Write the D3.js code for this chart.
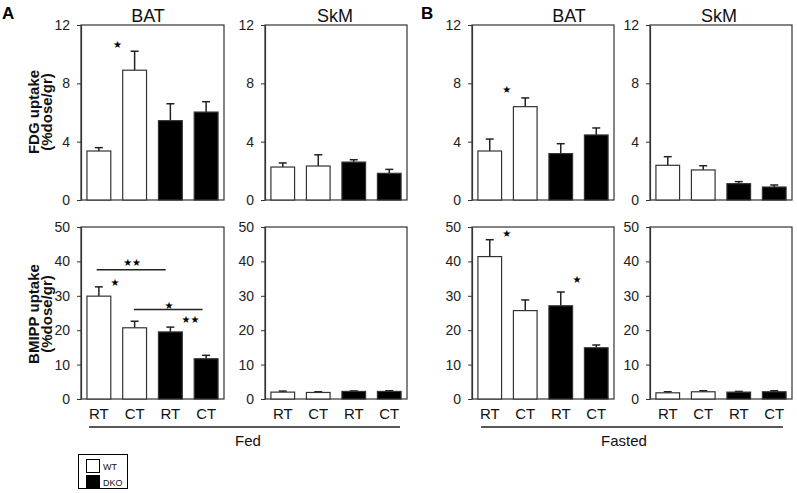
<!DOCTYPE html>
<html><head><meta charset="utf-8">
<script src="https://cdn.jsdelivr.net/npm/d3@7"></script>
<style>
body{margin:0;background:#fff;}
text{font-family:"Liberation Sans",Arial,sans-serif;}
</style></head>
<body><svg id="c" width="797" height="493"></svg>
<script>
// ---- data ----
const conditions = ["RT","CT","RT","CT"];
const genotypes = ["WT","WT","DKO","DKO"];
const fdgTicks = [0,4,8,12];
const bmippTicks = [0,10,20,30,40,50];

const fdgFedBAT = [3.36, 8.9, 5.44, 6.03];
const fdgFedBATErr = [0.23, 1.3, 1.16, 0.71];
const fdgFedSkM = [2.26, 2.33, 2.6, 1.83];
const fdgFedSkMErr = [0.28, 0.77, 0.16, 0.27];
const fdgFastedBAT = [3.36, 6.4, 3.18, 4.46];
const fdgFastedBATErr = [0.82, 0.6, 0.68, 0.48];
const fdgFastedSkM = [2.38, 2.06, 1.12, 0.89];
const fdgFastedSkMErr = [0.59, 0.29, 0.14, 0.14];

const bmippFedBAT = [29.9, 20.7, 19.5, 11.7];
const bmippFedBATErr = [2.7, 1.9, 1.4, 1.0];
const bmippFedSkM = [2.0, 1.9, 2.2, 2.2];
const bmippFedSkMErr = [0.3, 0.2, 0.15, 0.2];
const bmippFastedBAT = [41.4, 25.7, 27.1, 14.9];
const bmippFastedBATErr = [4.9, 3.1, 4.0, 0.8];
const bmippFastedSkM = [1.8, 2.1, 2.0, 2.1];
const bmippFastedSkMErr = [0.3, 0.3, 0.2, 0.3];

// significance marks: bar index position (fractional), value
const starsFdgFedBAT = [{i:0.52, v:10.68, t:"★"}];
const starsFdgFastedBAT = [{i:0.48, v:7.59, t:"★"}];
const starsBmippFedBAT = [{i:0.93, v:39.8, t:"★★"},{i:0.45, v:34.0, t:"★"},{i:1.96, v:27.2, t:"★"},{i:2.56, v:23.0, t:"★★"}];
const linesBmippFedBAT = [{i0:-0.06, i1:1.87, v:37.6},{i0:0.98, i1:2.9, v:26.0}];
const starsBmippFastedBAT = [{i:0.48, v:48.1, t:"★"},{i:2.46, v:34.6, t:"★"}];

// ---- layout ----
const svg = d3.select("#c");
const cols = [{x0:81,x1:224},{x0:265,x1:407},{x0:472,x1:614},{x0:650,x1:792}];
const rows = [{y0:200,y1:25,max:12,ticks:fdgTicks},{y0:399,y1:227,max:50,ticks:bmippTicks}];
const ink = "#222";

const panels = [
 {c:0,r:0,vals:fdgFedBAT,err:fdgFedBATErr,stars:starsFdgFedBAT,title:"BAT",tx:148},
 {c:1,r:0,vals:fdgFedSkM,err:fdgFedSkMErr,title:"SkM",tx:335},
 {c:2,r:0,vals:fdgFastedBAT,err:fdgFastedBATErr,stars:starsFdgFastedBAT,title:"BAT",tx:569},
 {c:3,r:0,vals:fdgFastedSkM,err:fdgFastedSkMErr,title:"SkM",tx:719},
 {c:0,r:1,vals:bmippFedBAT,err:bmippFedBATErr,stars:starsBmippFedBAT,lines:linesBmippFedBAT},
 {c:1,r:1,vals:bmippFedSkM,err:bmippFedSkMErr},
 {c:2,r:1,vals:bmippFastedBAT,err:bmippFastedBATErr,stars:starsBmippFastedBAT},
 {c:3,r:1,vals:bmippFastedSkM,err:bmippFastedSkMErr}
];

panels.forEach(p=>{
  const col = cols[p.c], row = rows[p.r];
  const idx = d3.range(conditions.length);
  const x = d3.scaleBand().domain(idx).range([col.x0,col.x1]).paddingInner(1/3).paddingOuter(1/6);
  const xi = d3.scaleLinear().domain([0,1]).range([x(0)+x.bandwidth()/2, x(1)+x.bandwidth()/2]);
  const y = d3.scaleLinear().domain([0,row.max]).range([row.y0,row.y1]);
  const g = svg.append("g");

  g.append("rect").attr("x",col.x0).attr("y",row.y1).attr("width",col.x1-col.x0).attr("height",row.y0-row.y1)
   .attr("fill","none").attr("stroke","#333").attr("stroke-width",1.2);

  const ax = g.append("g").attr("transform",`translate(${col.x0},0)`)
    .call(d3.axisLeft(y).tickValues(row.ticks).tickSize(4).tickSizeOuter(0).tickPadding(7).tickFormat(d3.format("d")));
  ax.select(".domain").attr("stroke","#333").attr("stroke-width",1.2);
  ax.selectAll(".tick line").attr("stroke","#333");
  ax.selectAll("text").attr("font-size",14).attr("fill","#222").style("font-family","'Liberation Sans',Arial,sans-serif");

  idx.forEach(i=>{
    const cx = x(i)+x.bandwidth()/2;
    const top = y(p.vals[i]+p.err[i]);
    g.append("line").attr("x1",cx).attr("x2",cx).attr("y1",y(p.vals[i])).attr("y2",top).attr("stroke",ink).attr("stroke-width",1.5);
    g.append("line").attr("x1",cx-4).attr("x2",cx+4).attr("y1",top).attr("y2",top).attr("stroke",ink).attr("stroke-width",1.5);
  });
  g.selectAll("rect.bar").data(idx).join("rect").attr("class","bar")
   .attr("x",i=>x(i)).attr("width",x.bandwidth())
   .attr("y",i=>y(p.vals[i])).attr("height",i=>y(0)-y(p.vals[i]))
   .attr("fill",i=>genotypes[i]==="WT"?"#fff":"#000")
   .attr("stroke","#333").attr("stroke-width",1.2);

  if(p.r===1){
    const xa = g.append("g").attr("transform",`translate(0,${row.y0+6})`)
      .call(d3.axisBottom(x).tickSize(0).tickPadding(0).tickFormat(i=>conditions[i]));
    xa.select(".domain").remove();
    xa.selectAll("text").attr("font-size",15).attr("fill","#111").attr("dy","0.9em").style("font-family","'Liberation Sans',Arial,sans-serif");
  }
  if(p.title){
    g.append("text").attr("x",p.tx).attr("y",16).attr("text-anchor","middle").attr("dominant-baseline","central")
     .attr("font-size",18).attr("fill","#111").text(p.title);
  }
  (p.lines||[]).forEach(l=>{
    g.append("line").attr("x1",xi(l.i0)).attr("x2",xi(l.i1)).attr("y1",y(l.v)).attr("y2",y(l.v)).attr("stroke",ink).attr("stroke-width",1.5);
  });
  (p.stars||[]).forEach(s=>{
    g.append("text").attr("x",xi(s.i)).attr("y",y(s.v)).attr("text-anchor","middle").attr("dominant-baseline","central")
     .attr("font-size",10).attr("fill","#000").style("font-family","'DejaVu Sans',sans-serif").text(s.t);
  });
});

svg.append("text").attr("x",2).attr("y",19).attr("font-size",17).attr("font-weight","bold").text("A");
svg.append("text").attr("x",421).attr("y",19).attr("font-size",17).attr("font-weight","bold").text("B");

[{y:112,l1:"FDG uptake"},{y:314,l1:"BMIPP uptake"}].forEach(t=>{
  const tg = svg.append("g").attr("transform",`translate(33,${t.y}) rotate(-90)`);
  tg.append("text").attr("text-anchor","middle").attr("dominant-baseline","central").attr("font-size",15).attr("font-weight","bold").attr("fill","#111").text(t.l1);
  tg.append("text").attr("y",13).attr("text-anchor","middle").attr("dominant-baseline","central").attr("font-size",15).attr("font-weight","bold").attr("fill","#111").text("(%dose/gr)");
});

[{x0:89,x1:400,label:"Fed",cx:248},{x0:481,x1:783,label:"Fasted",cx:624}].forEach(b=>{
  svg.append("line").attr("x1",b.x0).attr("x2",b.x1).attr("y1",427).attr("y2",427).attr("stroke",ink).attr("stroke-width",1.5);
  svg.append("text").attr("x",b.cx).attr("y",440).attr("text-anchor","middle").attr("dominant-baseline","central").attr("font-size",15).attr("fill","#111").text(b.label);
});

const lg = svg.append("g");
lg.append("rect").attr("x",78.5).attr("y",454.5).attr("width",49).attr("height",34).attr("fill","#fff").attr("stroke","#000").attr("stroke-width",1);
["WT","DKO"].forEach((k,i)=>{
  lg.append("rect").attr("x",86.5).attr("y",459.5+i*16).attr("width",13).attr("height",13)
    .attr("fill",k==="WT"?"#fff":"#000").attr("stroke","#000").attr("stroke-width",1);
  lg.append("text").attr("x",103).attr("y",466.5+i*16).attr("dominant-baseline","central").attr("font-size",9).attr("fill","#111").text(k);
});
</script></body></html>
